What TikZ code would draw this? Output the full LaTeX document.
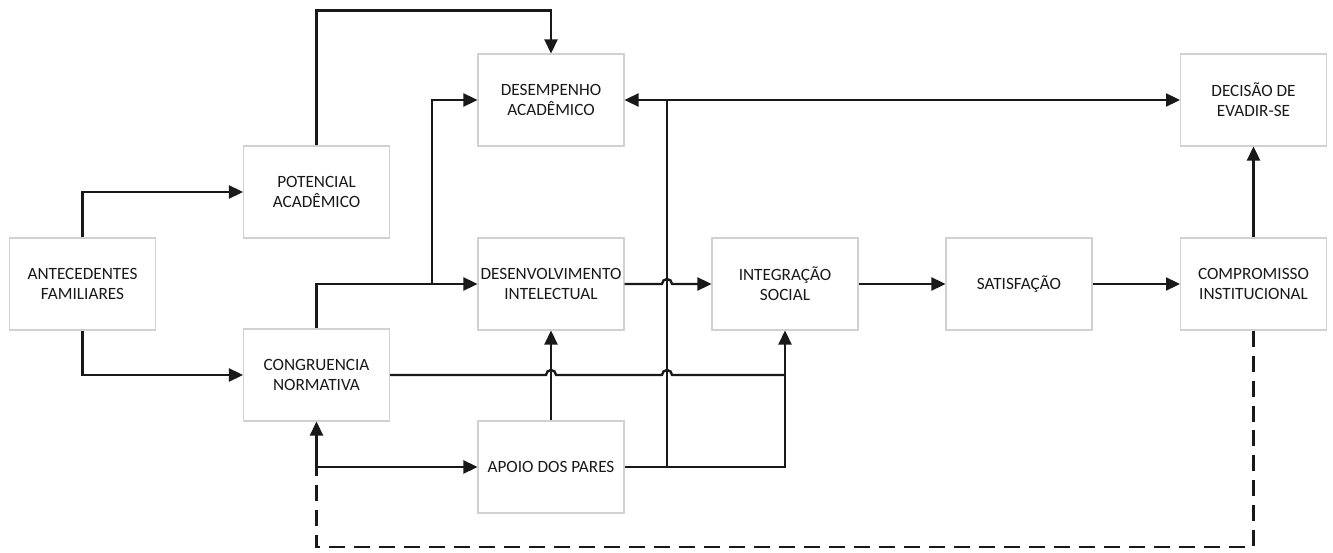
\documentclass[tikz,border=0pt]{standalone}
\usepackage{fontspec}
\setmainfont{Carlito}
\usetikzlibrary{arrows.meta,calc}
\begin{document}
\begin{tikzpicture}[x=0.02cm,y=0.02cm,
  box/.style={draw=black!18,line width=0.6pt,minimum width=2.92cm,minimum height=1.84cm,
    align=center,inner sep=0pt,font=\fontsize{9.8}{11.6}\selectfont,text=black!90},
  conn/.style={line width=1.35pt,black!90},
  arr/.style={conn,-{Triangle[length=0.28cm,width=0.26cm]}},
  darr/.style={conn,{Triangle[length=0.28cm,width=0.26cm]}-{Triangle[length=0.28cm,width=0.26cm]}},
  fb/.style={conn,dash pattern=on 0.32cm off 0.18cm}]
\useasboundingbox (0,0) rectangle (1333,552);
\node[box] (ante) at (82.5,268) {ANTECEDENTES\\FAMILIARES};
\node[box] (pot) at (316.5,360) {POTENCIAL\\ACADÊMICO};
\node[box] (cong) at (316.5,177) {CONGRUENCIA\\NORMATIVA};
\node[box] (desemp) at (551,452) {DESEMPENHO\\ACADÊMICO};
\node[box] (desenv) at (551,268) {DESENVOLVIMENTO\\INTELECTUAL};
\node[box] (apoio) at (551,85) {APOIO DOS PARES};
\node[box] (integ) at (785,268) {INTEGRAÇÃO\\SOCIAL};
\node[box] (satis) at (1019,268) {SATISFAÇÃO};
\node[box] (comp) at (1253.5,268) {COMPROMISSO\\INSTITUCIONAL};
\node[box] (decis) at (1253.5,452) {DECISÃO DE\\EVADIR-SE};
\coordinate (top) at ($(desemp.north)+(0,43)$);
\coordinate (b1) at (432,268);
\coordinate (vb) at (667,85);
\coordinate (vt) at (667,452);
\coordinate (ap) at (cong.south |- apoio.west);
\coordinate (low) at ($(ap)+(0,-80)$);
% arrows
\draw[arr] (ante.north) |- (pot.west);
\draw[arr] (ante.south) |- (cong.west);
\draw[arr] (pot.north) |- (top) -- (desemp.north);
\draw[arr] (cong.north) |- (desenv.west);
\draw[arr] (b1) |- (desemp.west);
\draw[arr] (desenv.east) -- ($(vt |- desenv.east)+(-5,0)$) arc[start angle=180,end angle=0,radius=0.1cm] -- (integ.west);
\draw[arr] (apoio.east) -| (integ.south);
\draw[conn] (vb) -- (vt);
\draw[darr] (desemp.east) -- (decis.west);
\draw[conn] (cong.east) -- ($(desenv.south |- cong.east)+(-5,0)$) arc[start angle=180,end angle=0,radius=0.1cm]
  -- ($(vt |- cong.east)+(-5,0)$) arc[start angle=180,end angle=0,radius=0.1cm] -- (integ.south |- cong.east);
\draw[arr] (apoio.north) -- (desenv.south);
\draw[arr] (integ.east) -- (satis.west);
\draw[arr] (satis.east) -- (comp.west);
\draw[arr] (comp.north) -- (decis.south);
\draw[fb] (comp.south) |- (low) -- (ap);
\draw[arr] (ap) -- (cong.south);
\draw[arr] (ap) -- (apoio.west);
\end{tikzpicture}
\end{document}
